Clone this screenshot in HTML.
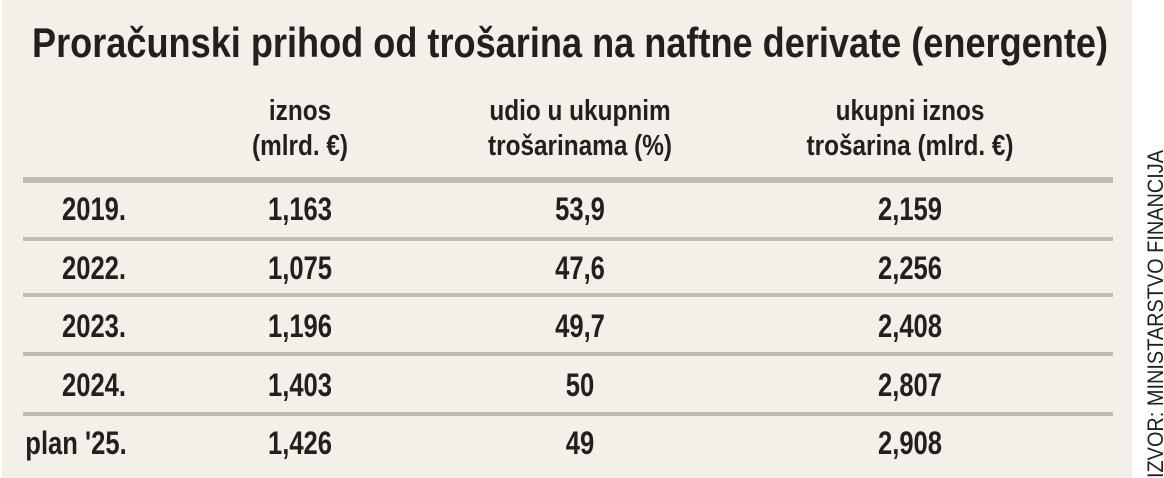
<!DOCTYPE html>
<html><head><meta charset="utf-8"><style>
html,body{margin:0;padding:0;background:#fff;}
svg{display:block;}
text{font-family:"Liberation Sans Narrow","Liberation Sans",sans-serif;fill:#231f20;}
.b{font-weight:bold;}
</style></head><body>
<svg width="1164" height="478" viewBox="0 0 1164 478" xmlns="http://www.w3.org/2000/svg">
<rect x="2" y="0" width="1130" height="478" fill="#f2f0e9"/>
<text class="b" x="32" y="57" font-size="42" textLength="1076" lengthAdjust="spacingAndGlyphs">Proračunski prihod od trošarina na naftne derivate (energente)</text>
<g font-size="29" text-anchor="middle">
<g transform="translate(300,120) scale(0.84,1)"><text class="b">iznos</text></g>
<g transform="translate(300,155) scale(0.84,1)"><text class="b">(mlrd. €)</text></g>
<g transform="translate(580,120) scale(0.84,1)"><text class="b">udio u ukupnim</text></g>
<g transform="translate(580,155) scale(0.84,1)"><text class="b">trošarinama (%)</text></g>
<g transform="translate(910,120) scale(0.84,1)"><text class="b">ukupni iznos</text></g>
<g transform="translate(910,155) scale(0.84,1)"><text class="b">trošarina (mlrd. €)</text></g>
</g>
<g fill="#bdbcb4">
<rect x="23" y="177" width="1090" height="6"/>
<rect x="23" y="237" width="1090" height="4"/>
<rect x="23" y="293" width="1090" height="4"/>
<rect x="23" y="352" width="1090" height="4"/>
<rect x="23" y="412" width="1090" height="4"/>
</g>
<g font-size="32" text-anchor="middle">
<g transform="translate(94,220) scale(0.8,1)"><text class="b">2019.</text></g>
<g transform="translate(300,220) scale(0.8,1)"><text class="b">1,163</text></g>
<g transform="translate(580,220) scale(0.8,1)"><text class="b">53,9</text></g>
<g transform="translate(910,220) scale(0.8,1)"><text class="b">2,159</text></g>
<g transform="translate(94,279) scale(0.8,1)"><text class="b">2022.</text></g>
<g transform="translate(300,279) scale(0.8,1)"><text class="b">1,075</text></g>
<g transform="translate(580,279) scale(0.8,1)"><text class="b">47,6</text></g>
<g transform="translate(910,279) scale(0.8,1)"><text class="b">2,256</text></g>
<g transform="translate(94,337) scale(0.8,1)"><text class="b">2023.</text></g>
<g transform="translate(300,337) scale(0.8,1)"><text class="b">1,196</text></g>
<g transform="translate(580,337) scale(0.8,1)"><text class="b">49,7</text></g>
<g transform="translate(910,337) scale(0.8,1)"><text class="b">2,408</text></g>
<g transform="translate(94,396) scale(0.8,1)"><text class="b">2024.</text></g>
<g transform="translate(300,396) scale(0.8,1)"><text class="b">1,403</text></g>
<g transform="translate(580,396) scale(0.8,1)"><text class="b">50</text></g>
<g transform="translate(910,396) scale(0.8,1)"><text class="b">2,807</text></g>
<g transform="translate(76,454) scale(0.8,1)"><text class="b">plan '25.</text></g>
<g transform="translate(300,454) scale(0.8,1)"><text class="b">1,426</text></g>
<g transform="translate(580,454) scale(0.8,1)"><text class="b">49</text></g>
<g transform="translate(910,454) scale(0.8,1)"><text class="b">2,908</text></g>
</g>
<text x="0" y="0" font-size="22" transform="translate(1163,478) rotate(-90)" textLength="328" lengthAdjust="spacingAndGlyphs">IZVOR: MINISTARSTVO FINANCIJA</text>
</svg>
</body></html>
